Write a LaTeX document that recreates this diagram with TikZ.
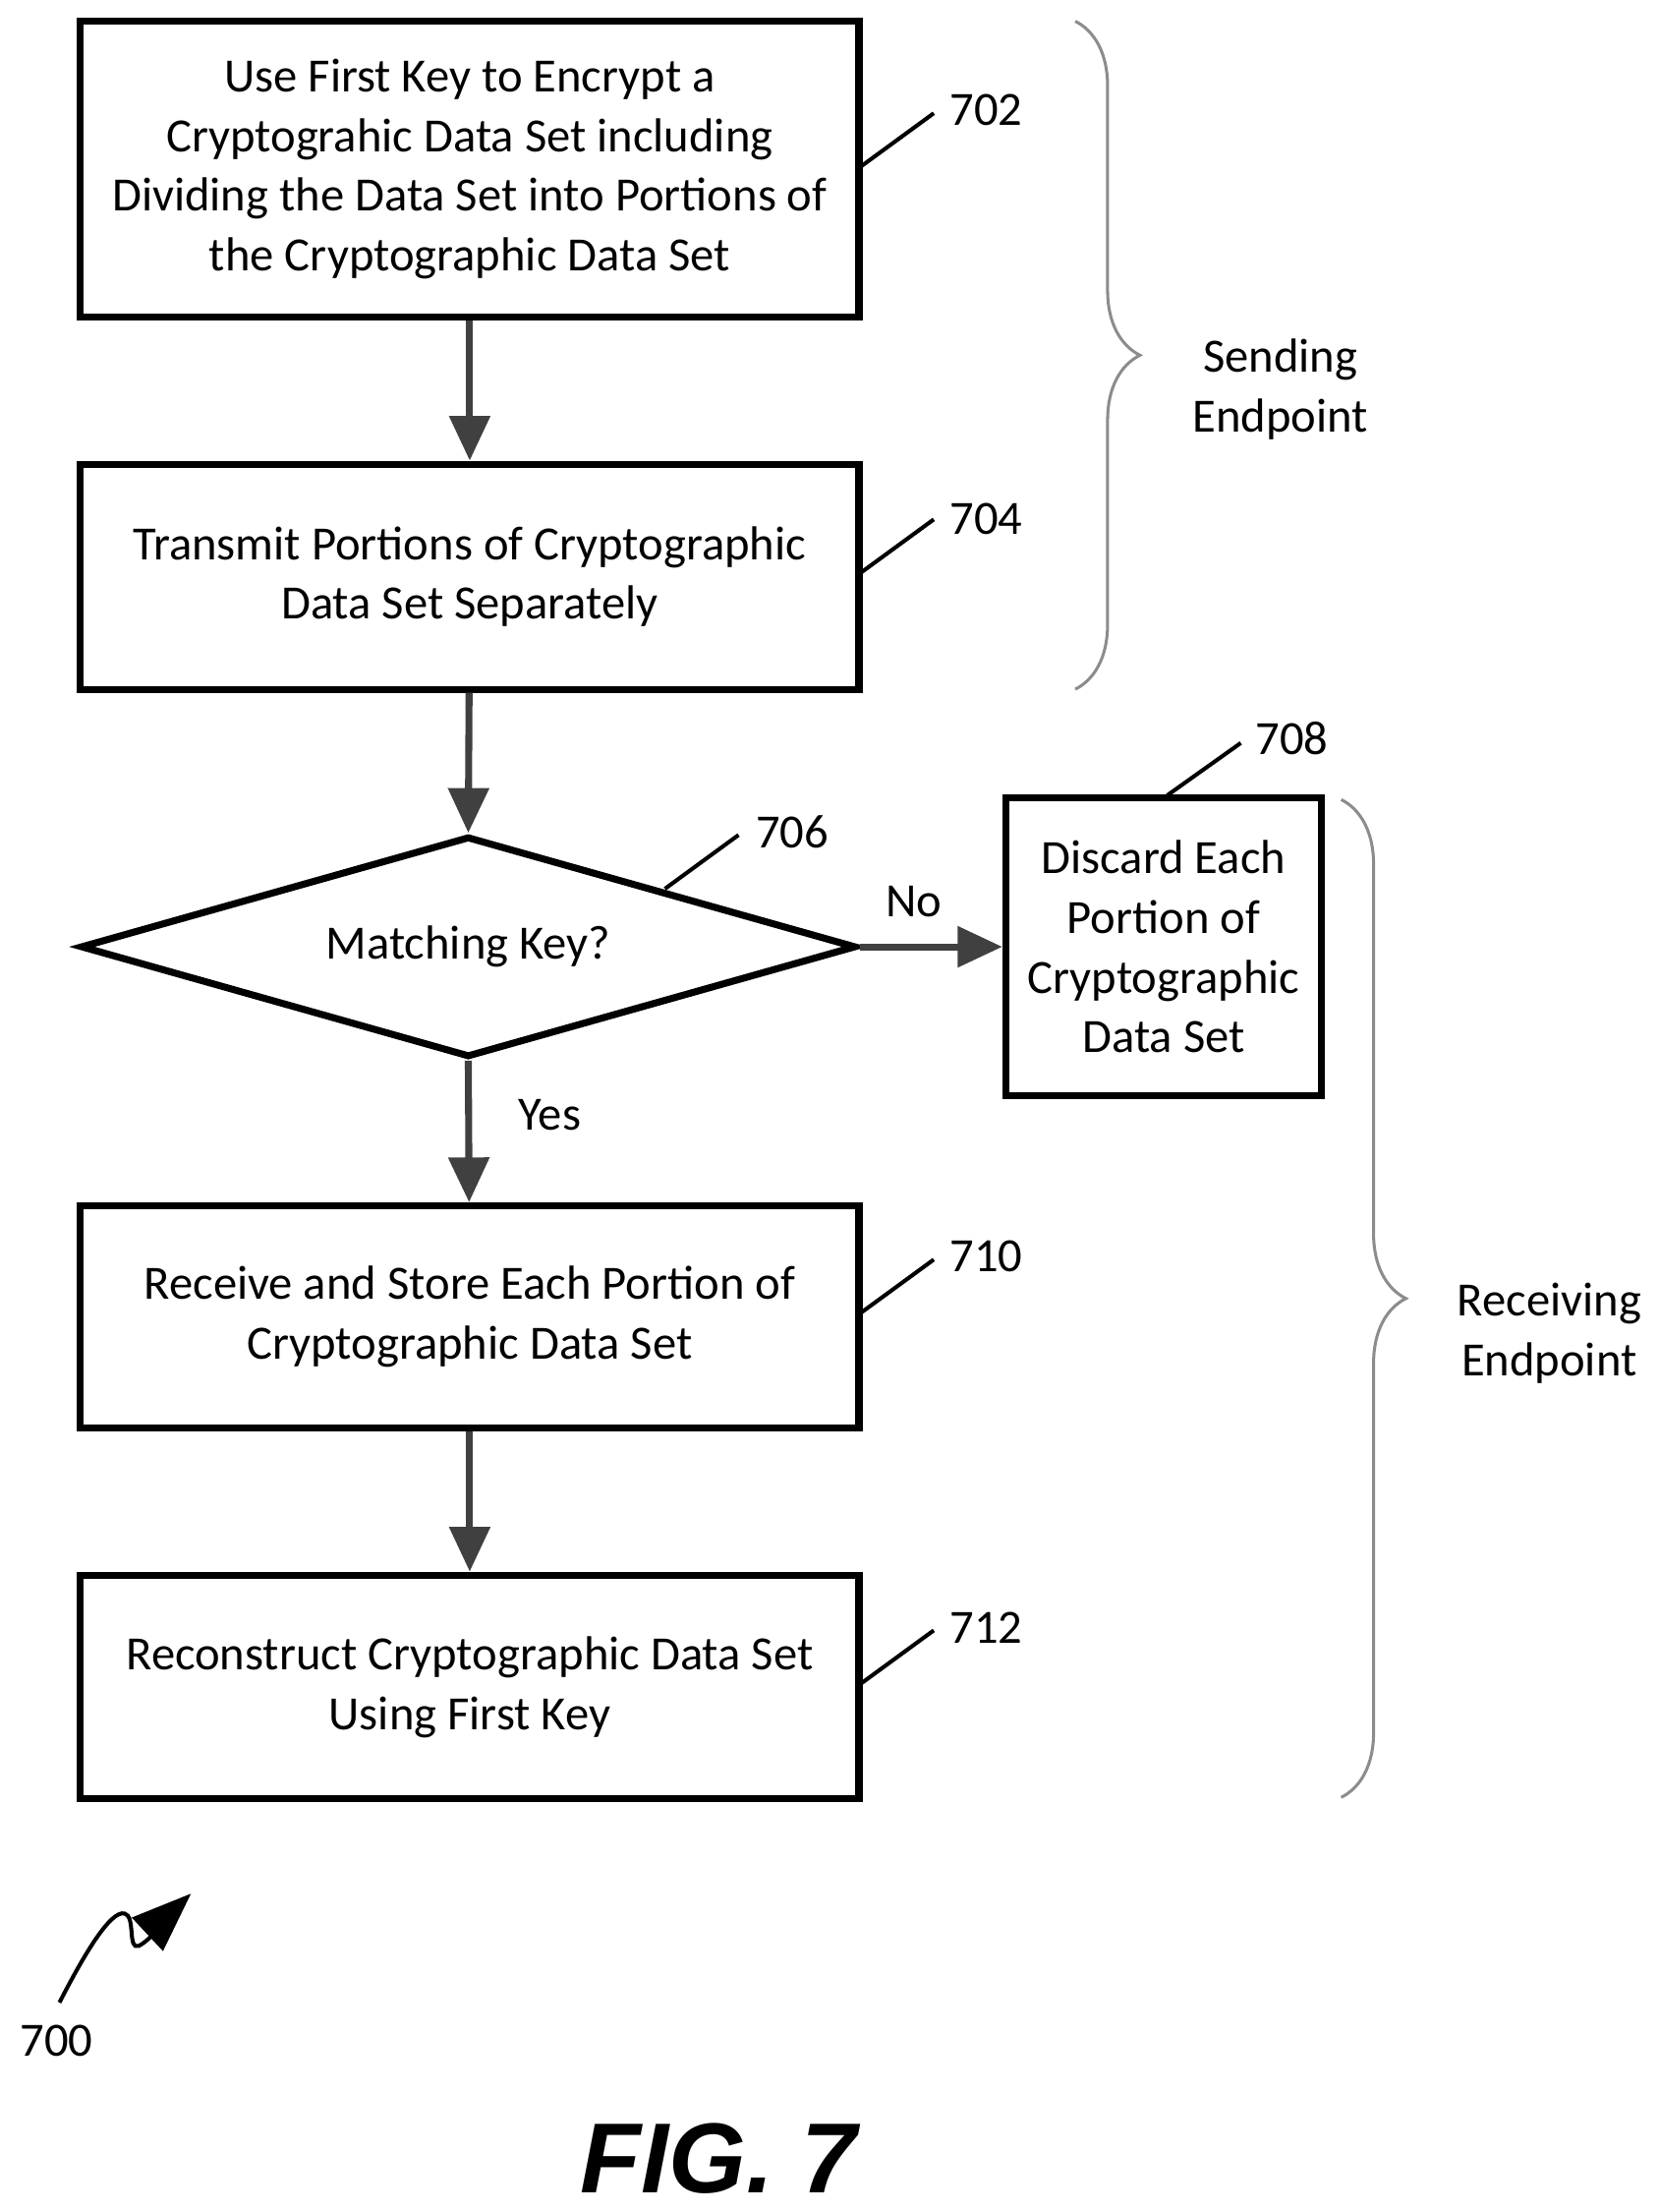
\documentclass[tikz,border=0pt]{standalone}
\usepackage{fontspec}
\setmainfont{Carlito}
\newfontfamily\figfont{Liberation Sans}
\usetikzlibrary{shapes.geometric,arrows.meta,decorations.pathreplacing}
\begin{document}
\begin{tikzpicture}[x=0.01cm,y=-0.01cm,
  box/.style={draw,line width=1.4pt,align=center,inner sep=0pt,font=\fontsize{9.6}{12}\selectfont},
  arr/.style={line width=1.4pt,-{Triangle[length=9pt,width=8pt]},draw=black!75},
  lead/.style={line width=0.8pt},
  num/.style={font=\fontsize{9.6}{12}\selectfont},
  br/.style={draw=black!45,line width=0.6pt,decorate,decoration={brace,amplitude=13pt}}]
\useasboundingbox (0,0) rectangle (1172,1563);
\node[box,minimum width=5.5cm,minimum height=2.09cm] (n702) at (332,119.5) {Use First Key to Encrypt a\\Cryptograhic Data Set including\\Dividing the Data Set into Portions of\\the Cryptographic Data Set};
\node[box,minimum width=5.5cm,minimum height=1.59cm] (n704) at (332,407.5) {Transmit Portions of Cryptographic\\Data Set Separately};
\node[box,diamond,aspect=3.5,minimum width=5.48cm,minimum height=1.56cm,inner sep=0pt] (n706) at (331,669) {Matching Key?};
\node[box,minimum width=2.23cm,minimum height=2.1cm] (n708) at (822.5,669) {Discard Each\\Portion of\\Cryptographic\\Data Set};
\node[box,minimum width=5.5cm,minimum height=1.57cm] (n710) at (332,930.5) {Receive and Store Each Portion of\\Cryptographic Data Set};
\node[box,minimum width=5.5cm,minimum height=1.58cm] (n712) at (332,1192) {Reconstruct Cryptographic Data Set\\Using First Key};
\draw[arr] (n702) -- (n704);
\draw[arr] (n704) -- (n706.north);
\draw[arr] (n706.south) -- node[num,right=6pt,pos=0.38]{Yes} (n710);
\draw[arr] (n710) -- (n712);
\draw[arr] (n706.east) -- node[num,above=2pt,pos=0.38]{No} (n708);
\node[num] (l702) at (697,78) {702}; \draw[lead] (608,118) -- (660,80);
\node[num] (l704) at (697,367) {704}; \draw[lead] (608,405) -- (660,367);
\node[num] (l706) at (560,588) {706}; \draw[lead] (470,628) -- (522,590);
\node[num] (l708) at (913,522) {708}; \draw[lead] (825,562) -- (877,525);
\node[num] (l710) at (697,888) {710}; \draw[lead] (608,928) -- (660,890);
\node[num] (l712) at (697,1150) {712}; \draw[lead] (608,1190) -- (660,1152);
\draw[br] (760,15) -- (760,487);
\node[num,align=center] (se) at (905,275) {Sending\\Endpoint};
\draw[br] (948,565) -- (948,1270);
\node[num,align=center] (re) at (1095,942) {Receiving\\Endpoint};
\coordinate (s0) at (42,1415);
\coordinate (s1) at (135,1338);
\draw[line width=0.8pt,-{Triangle[length=12pt,width=9pt]}] (s0) .. controls (60,1380) and (78,1350) .. (88,1352) .. controls (96,1354) and (90,1378) .. (98,1375) .. controls (108,1370) and (120,1352) .. (s1);
\node[num] (l700) at (40,1442) {700};
\node[font=\figfont\bfseries\itshape\fontsize{20}{24}\selectfont] (fig) at (508,1525) {FIG. 7};
\end{tikzpicture}
\end{document}
